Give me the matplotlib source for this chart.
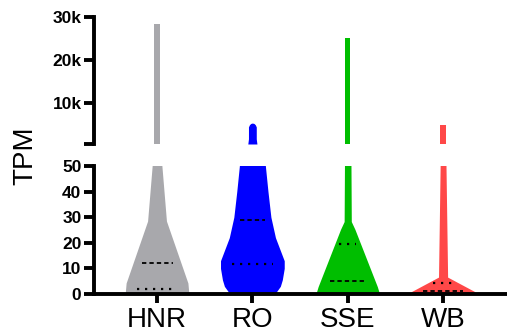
import numpy as np
import matplotlib
matplotlib.use("Agg")
import matplotlib.pyplot as plt

plt.rcParams['font.family'] = ['Liberation Sans', 'DejaVu Sans']

# Grupos y colores
grupos = ["HNR", "RO", "SSE", "WB"]
colores = ["#A8A8AC", "#0000FF", "#00BE00", "#FF4848"]

# Perfiles de densidad (ancho relativo, max = 1) para el tramo bajo (0-50 TPM)
hnr_y = [0, 4.3, 28.5, 50, 60]
hnr_w = [0.98, 0.95, 0.29, 0.15, 0.15]
ro_y = [0, 3, 5.5, 10, 13, 17, 22, 30, 40, 50, 60]
ro_w = [0.69, 0.86, 0.92, 0.98, 0.98, 0.86, 0.71, 0.57, 0.48, 0.40, 0.40]
sse_y = [0, 2.9, 25.3, 28.3, 50, 60]
sse_w = [0.98, 0.91, 0.22, 0.11, 0.10, 0.10]
wb_y = [0, 0.9, 6.6, 50, 60]
wb_w = [1.0, 0.98, 0.14, 0.09, 0.09]

# Tramo alto (cola de la distribucion)
hnr_y_alto = [300, 28300]
hnr_w_alto = [0.09, 0.09]
ro_y_alto = [300, 1500, 4300, 4800, 5100, 5200]
ro_w_alto = [0.14, 0.12, 0.12, 0.09, 0.05, 0.0]
sse_y_alto = [300, 25200]
sse_w_alto = [0.085, 0.085]
wb_y_alto = [300, 4700]
wb_w_alto = [0.09, 0.09]

# Mediana (discontinua) y cuartiles visibles (punteados)
medianas = [12.2, 28.9, 5.1, 1.2]
cuartiles = [1.8, 11.6, 19.4, 4.2]

perfiles_bajo = [(hnr_y, hnr_w), (ro_y, ro_w), (sse_y, sse_w), (wb_y, wb_w)]
perfiles_alto = [(hnr_y_alto, hnr_w_alto), (ro_y_alto, ro_w_alto),
                 (sse_y_alto, sse_w_alto), (wb_y_alto, wb_w_alto)]

W, H = 507, 335
fig = plt.figure(figsize=(W / 100, H / 100), dpi=100)

izq, der = 94, 506
ax_bajo = fig.add_axes([izq / W, (H - 294) / H, (der - izq) / W, 128 / H])
ax_alto = fig.add_axes([izq / W, (H - 144) / H, (der - izq) / W, 127 / H])

ANCHO = 0.341
pos = np.arange(1, len(grupos) + 1)
xlim = (0.339, 4.66)

def violin(ax, x, ys, ws, color):
    ys = np.asarray(ys, float)
    ws = np.asarray(ws, float) * ANCHO
    ax.fill_betweenx(ys, x - ws, x + ws, color=color, lw=0)

for i, x in enumerate(pos):
    violin(ax_bajo, x, *perfiles_bajo[i], colores[i])
    violin(ax_alto, x, *perfiles_alto[i], colores[i])
    ys, ws = perfiles_bajo[i]
    # mediana discontinua, cuartil punteado
    for val, estilo, lw in [(medianas[i], (0, (2.4, 1.7)), 1.3),
                            (cuartiles[i], (0, (1.0, 2.6)), 1.6)]:
        hw = np.interp(val, ys, ws) * ANCHO * 0.65
        ax_bajo.plot([x - hw, x + hw], [val, val], color="black", lw=lw,
                     linestyle=estilo, solid_capstyle="butt")

lw_eje = 2.8

# Eje inferior
ax_bajo.set_xlim(*xlim)
ax_bajo.set_ylim(0, 50)
ax_bajo.set_yticks([0, 10, 20, 30, 40, 50])
ax_bajo.set_xticks(pos)
ax_bajo.set_xticklabels(grupos, fontsize=20)
for s in ["top", "right"]:
    ax_bajo.spines[s].set_visible(False)
for s in ["left", "bottom"]:
    ax_bajo.spines[s].set_linewidth(lw_eje)
ax_bajo.tick_params(axis="y", length=7, width=lw_eje, pad=2, labelsize=12.5)
ax_bajo.tick_params(axis="x", length=6.5, width=lw_eje, pad=3)
for t in ax_bajo.get_yticklabels():
    t.set_fontweight("bold")

# Eje superior (tramo cortado)
ax_alto.set_xlim(*xlim)
ax_alto.set_ylim(300, 30000)
ax_alto.set_yticks([300, 10000, 20000, 30000])
ax_alto.set_yticklabels(["", "10k", "20k", "30k"], fontweight="bold")
ax_alto.set_xticks([])
for s in ["top", "right", "bottom"]:
    ax_alto.spines[s].set_visible(False)
ax_alto.spines["left"].set_linewidth(lw_eje)
ax_alto.tick_params(axis="y", length=7, width=lw_eje, pad=2, labelsize=12.5)

fig.text(25 / W, 1 - 156 / H, "TPM", rotation=90, fontsize=20, ha="center", va="center")

fig.savefig("out.png", dpi=100)
